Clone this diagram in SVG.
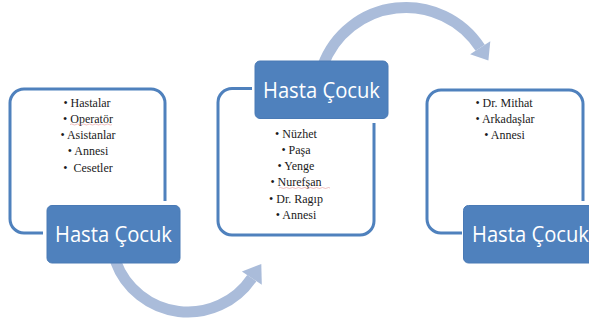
<svg xmlns="http://www.w3.org/2000/svg" width="589" height="324" viewBox="0 0 589 324">
<style>
.frame{fill:none;stroke:#4F81BD;stroke-width:3;stroke-linecap:butt}
.box{fill:#4F81BD;stroke:#4A7AB5;stroke-width:1}
.title{font-family:"Open Sans","Noto Sans",sans-serif;font-size:22px;fill:#ffffff}
.item{font-family:"Liberation Serif","Times New Roman",serif;font-size:12px;fill:#1a1a1a;text-anchor:middle}
.arc{fill:none;stroke:#AABCDA;stroke-width:11;stroke-linecap:butt}
.head{fill:#AABCDA}
.squig{fill:none;stroke:#E08080;stroke-width:0.7;opacity:0.7}
</style>
<rect width="589" height="324" fill="#ffffff"/>
<g id="connectors">
  <path class="arc" d="M 115.6 261.3 A 77 77 0 0 0 251.8 278.1"/>
  <polygon class="head" points="261.3,264 261.8,284.8 241.9,271.4"/>
  <path class="arc" d="M 322.8 65.7 A 88.5 88.5 0 0 1 480.2 47.8"/>
  <polygon class="head" points="488.4,60.4 490.3,41.3 470.1,54.3"/>
</g>
<g id="node1">
  <path class="frame" d="M 43 233 H 24 A 14 14 0 0 1 10 219 V 103 A 14 14 0 0 1 24 89 H 151 A 14 14 0 0 1 165 103 V 201"/>
  <text class="item" x="87" y="107">• Hastalar</text>
  <text class="item" x="88" y="123">• Operatör</text>
  <text class="item" x="88" y="139">• Asistanlar</text>
  <text class="item" x="88" y="155">• Annesi</text>
  <text class="item" x="88" y="171.5" xml:space="preserve">•  Cesetler</text>
  <path class="squig" d="M 70 124.5 q 1.5 -1 3 0 t 3 0 t 3 0 t 3 0 t 3 0 t 3 0 t 3 0 t 3 0 t 3 0 t 3 0 t 3 0 t 3 0 t 3 0 t 3 0"/>
  <rect class="box" x="47" y="205.5" width="133" height="57.5" rx="5"/>
  <text class="title" x="55" y="242" textLength="117" lengthAdjust="spacingAndGlyphs">Hasta Çocuk</text>
</g>
<g id="node2">
  <path class="frame" d="M 252 88.5 H 232 A 14 14 0 0 0 218 102.5 V 221 A 14 14 0 0 0 232 235 H 360 A 14 14 0 0 0 374 221 V 123"/>
  <rect class="box" x="255" y="61" width="133" height="57.5" rx="5"/>
  <text class="title" x="263" y="98" textLength="117" lengthAdjust="spacingAndGlyphs">Hasta Çocuk</text>
  <text class="item" x="296" y="137.7">• Nüzhet</text>
  <text class="item" x="296" y="153.5">• Paşa</text>
  <text class="item" x="296" y="170">• Yenge</text>
  <text class="item" x="296" y="186">• Nurefşan</text>
  <text class="item" x="296" y="202.5">• Dr. Ragıp</text>
  <text class="item" x="296" y="219">• Annesi</text>
  <path class="squig" d="M 279 188 q 1.5 -1 3 0 t 3 0 t 3 0 t 3 0 t 3 0 t 3 0 t 3 0 t 3 0 t 3 0 t 3 0 t 3 0 t 3 0 t 3 0 t 3 0 t 3 0 t 3 0 t 3 0"/>
</g>
<g id="node3">
  <path class="frame" d="M 462 233 H 441 A 14 14 0 0 1 427 219 V 104 A 14 14 0 0 1 441 90 H 569 A 14 14 0 0 1 583 104 V 201"/>
  <text class="item" x="504" y="106.7">• Dr. Mithat</text>
  <text class="item" x="505" y="122.5">• Arkadaşlar</text>
  <text class="item" x="504.5" y="139">• Annesi</text>
  <rect class="box" x="463.5" y="205.5" width="140" height="57.5" rx="5"/>
  <text class="title" x="472" y="242" textLength="117" lengthAdjust="spacingAndGlyphs">Hasta Çocuk</text>
</g>
</svg>
